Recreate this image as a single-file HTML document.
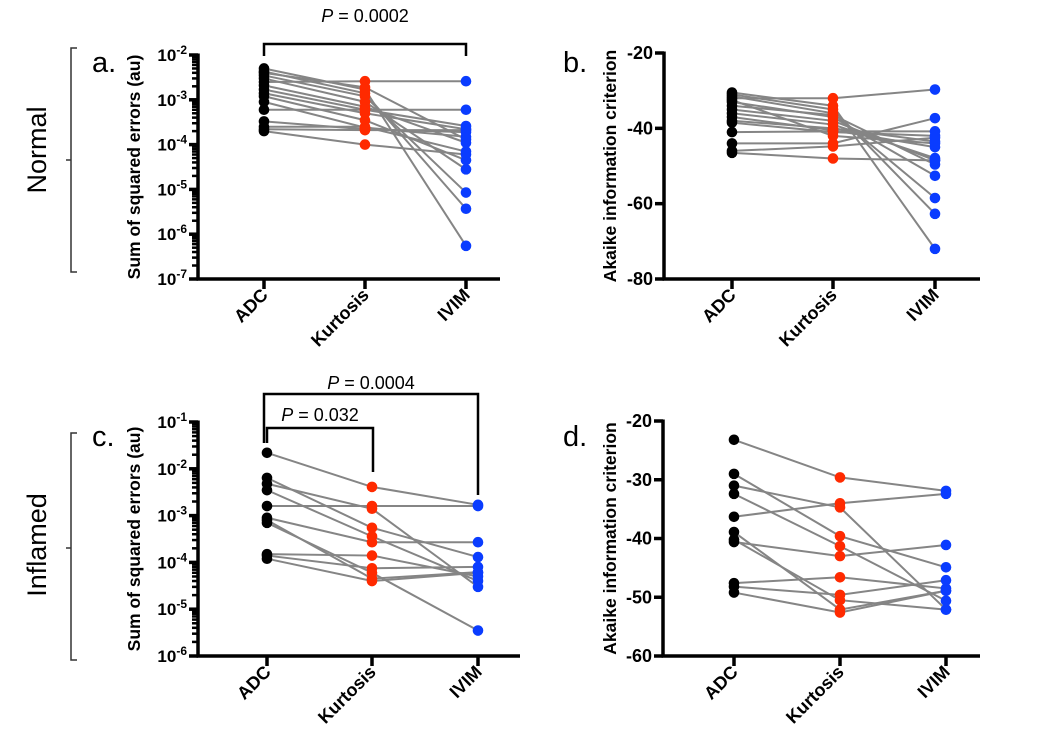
<!DOCTYPE html>
<html><head><meta charset="utf-8"><style>
html,body{margin:0;padding:0;background:#fff;}
svg{display:block;font-family:"Liberation Sans",Arial,sans-serif;}
</style></head><body>
<svg id="fig" width="1037" height="740" viewBox="0 0 1037 740">
<g>
<text x="46" y="150" font-size="27" text-anchor="middle" transform="rotate(-90 46 150)">Normal</text>
<path d="M77,48 H71 V272 H77 M71,160 H66" fill="none" stroke="#333" stroke-width="1.5"/>
</g>
<g>
<text x="46" y="545" font-size="27" text-anchor="middle" transform="rotate(-90 46 545)">Inflamed</text>
<path d="M77,433 H71 V660 H77 M71,548 H66" fill="none" stroke="#333" stroke-width="1.5"/>
</g>
<text x="92" y="72" font-size="29">a.</text>
<text x="563" y="72" font-size="29">b.</text>
<text x="92" y="446" font-size="29">c.</text>
<text x="563" y="446" font-size="29">d.</text>
<g>
<path d="M264,56 V44 H466 V56" fill="none" stroke="#000" stroke-width="2.5"/>
<text x="365" y="22" font-size="18" text-anchor="middle"><tspan font-style="italic">P</tspan> = 0.0002</text>
</g>
<g>
<path d="M264,443 V394 H478 V495" fill="none" stroke="#000" stroke-width="2.5"/>
<text x="371" y="389" font-size="18" text-anchor="middle"><tspan font-style="italic">P</tspan> = 0.0004</text>
</g>
<g>
<path d="M267,443 V428 H373 V472" fill="none" stroke="#000" stroke-width="2.5"/>
<text x="320" y="421" font-size="18" text-anchor="middle"><tspan font-style="italic">P</tspan> = 0.032</text>
</g>
</svg>
<script>
const categories = ["ADC","Kurtosis","IVIM"];
// panel a: sum of squared errors, normal (per subject ADC,Kurtosis,IVIM)
const aADC = [2.5e-3,5e-3,4.3e-3,3.5e-3,3e-3,2.1e-3,1.7e-3,1.4e-3,1.2e-3,9e-4,6e-4,3.3e-4,2.5e-4,2e-4,2.2e-4,4e-3];
const aKurt = [2.6e-3,1.7e-3,1.4e-3,1.2e-3,9e-4,7e-4,6e-4,5e-4,3.5e-4,2.4e-4,6e-4,2.2e-4,2.5e-4,1e-4,2.1e-4,1.9e-3];
const aIVIM = [2.6e-3,5.5e-7,3.7e-6,8.5e-6,2.8e-5,1.1e-4,6e-4,2.2e-4,4.5e-5,1.5e-4,2.6e-4,1.9e-4,7e-5,6e-5,2.1e-4,1.3e-4];
// panel b: AIC, normal
const bADC = [-32,-30.5,-31,-31.5,-33,-34,-35,-36,-37,-38,-38.5,-41,-44,-46,-46.5,-32.5];
const bKurt = [-32,-34,-35,-36,-37,-36.5,-38,-39,-40.5,-40,-41,-40.8,-44,-44.8,-48,-42];
const bIVIM = [-29.7,-72,-62.7,-58.5,-52.6,-49.6,-48.5,-47.9,-45,-43.5,-42,-40.8,-37.3,-42.5,-48.5,-44];
// panel c: sum of squared errors, inflamed
const cADC = [2.2e-2,1.6e-3,6.4e-3,4.8e-3,3.5e-3,9e-4,7e-4,8e-4,1.5e-4,1.4e-4,1.2e-4];
const cKurt = [4.1e-3,1.6e-3,5.5e-4,1.4e-3,3.6e-4,2.7e-4,6e-5,4.5e-5,1.4e-4,7.5e-5,4e-5];
const cIVIM = [1.7e-3,1.6e-3,1.3e-4,3e-5,4e-5,2.7e-4,3.5e-6,6.2e-5,5e-5,8e-5,6e-5];
// panel d: AIC, inflamed
const dADC = [-23.2,-29,-31,-32.4,-36.3,-38.9,-40.6,-40.2,-47.6,-48.2,-49.2];
const dKurt = [-29.6,-39.6,-34.7,-41.3,-34,-52.1,-43,-50.5,-46.6,-49.6,-52.6];
const dIVIM = [-31.9,-44.9,-52.1,-50.6,-32.4,-48.9,-41.1,-52.1,-48.5,-47.1,-48.9];
const logTicksA = [-2,-3,-4,-5,-6,-7];
const logTicksC = [-1,-2,-3,-4,-5,-6];
const linTicksB = [-20,-40,-60,-80];
const linTicksD = [-20,-30,-40,-50,-60];
const colors = ["#000","#ff2a00","#0a3cff"];

const NS="http://www.w3.org/2000/svg";
const svg=document.getElementById('fig');
function mk(tag,attrs,parent){const e=document.createElementNS(NS,tag);for(const k in attrs)e.setAttribute(k,attrs[k]);(parent||svg).appendChild(e);return e;}

function panel(cfg){
  const g=mk('g',{});
  
  
  const lo=cfg.min,hi=cfg.max;
  const yv=v=>{const t=cfg.log?Math.log10(v):v;return cfg.yBot-(t-lo)/(hi-lo)*(cfg.yBot-cfg.yTop);};
  const xc=i=>cfg.xs[i];
  const series=cfg.series;
  for(let s=0;s<series[0].length;s++){
    const pts=series.map((arr,i)=>xc(i)+','+yv(arr[s])).join(' ');
    const pl=mk('polyline',{points:pts,fill:'none',stroke:'#858585','stroke-width':2},g);
    
    
  }
  series.forEach((arr,i)=>arr.forEach(v=>{
    const c=mk('circle',{cx:xc(i),cy:yv(v),r:5.3,fill:colors[i]},g);
    
    
  }));
  const ax=mk('g',{},g);
  
  
  mk('line',{x1:cfg.ax,y1:cfg.yTop-1.5,x2:cfg.ax,y2:cfg.yBot+1.5,stroke:'#000','stroke-width':3.5},ax);
  const xa=mk('g',{},g);
  
  
  mk('line',{x1:cfg.ax-1.5,y1:cfg.yBot,x2:cfg.xEnd,y2:cfg.yBot,stroke:'#000','stroke-width':3.5},xa);
  cfg.ticks.forEach(t=>{
    const y=cfg.log?yv(Math.pow(10,t)):yv(t);
    mk('line',{x1:cfg.ax-9,y1:y,x2:cfg.ax,y2:y,stroke:'#000','stroke-width':3.5},ax);
    if(cfg.log){
      const tx=mk('text',{x:cfg.ax-11,y:y+6,'font-size':17,'font-weight':'bold','text-anchor':'end'},ax);
      tx.appendChild(document.createTextNode('10'));
      const sp=mk('tspan',{dy:-7,'font-size':12},tx);sp.textContent=String(t);
      if(t>lo) for(let m=2;m<=9;m++){const yy=yv(m*Math.pow(10,t-1));
        mk('line',{x1:cfg.ax-6,y1:yy,x2:cfg.ax,y2:yy,stroke:'#000','stroke-width':2.5},ax);}
    } else {
      const tx=mk('text',{x:cfg.ax-11,y:y+6,'font-size':18,'font-weight':'bold','text-anchor':'end'},ax);
      tx.textContent=String(t);
    }
  });
  const tl=mk('text',{x:cfg.titleX,y:(cfg.yTop+cfg.yBot)/2,'font-size':17.5,'font-weight':'bold','text-anchor':'middle',transform:`rotate(-90 ${cfg.titleX} ${(cfg.yTop+cfg.yBot)/2})`},g);
  tl.textContent=cfg.title;
  
  
  categories.forEach((c,i)=>{
    mk('line',{x1:xc(i),y1:cfg.yBot,x2:xc(i),y2:cfg.yBot+10,stroke:'#000','stroke-width':3.5},xa);
    const x=xc(i)+5,y=cfg.yBot+17;
    const t=mk('text',{x:x,y:y,'font-size':18,'font-weight':'bold','text-anchor':'end',transform:`rotate(-45 ${x} ${y})`},xa);
    t.textContent=c;
    
    
  });
}
panel({name:'panel-a',log:true,min:-7,max:-2,yTop:55,yBot:279,ax:198,xEnd:500,xs:[264,365,466],ticks:logTicksA,series:[aADC,aKurt,aIVIM],title:'Sum of squared errors (au)',titleX:140});
panel({name:'panel-b',log:false,min:-80,max:-20,yTop:53,yBot:279,ax:664,xEnd:980,xs:[732,833,935],ticks:linTicksB,series:[bADC,bKurt,bIVIM],title:'Akaike information criterion',titleX:616});
panel({name:'panel-c',log:true,min:-6,max:-1,yTop:422,yBot:656,ax:198,xEnd:520,xs:[267,372,478],ticks:logTicksC,series:[cADC,cKurt,cIVIM],title:'Sum of squared errors (au)',titleX:140});
panel({name:'panel-d',log:false,min:-60,max:-20,yTop:421,yBot:656,ax:663,xEnd:980,xs:[734,840,946],ticks:linTicksD,series:[dADC,dKurt,dIVIM],title:'Akaike information criterion',titleX:616});
</script>
</body></html>
